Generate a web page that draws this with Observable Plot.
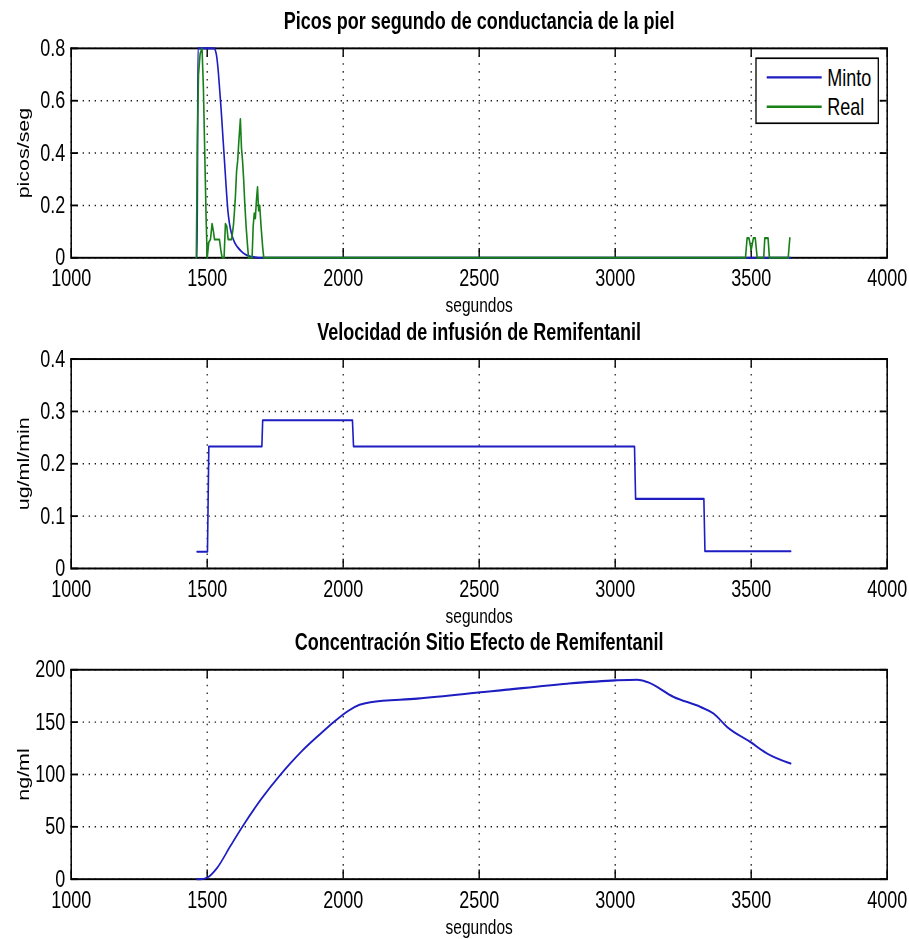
<!DOCTYPE html>
<html><head><meta charset="utf-8">
<script src="https://cdn.jsdelivr.net/npm/d3@7"></script>
<script src="https://cdn.jsdelivr.net/npm/@observablehq/plot@0.6"></script>
<style>
html,body{margin:0;background:#fff;}
#outer{position:relative;width:909px;height:939px;overflow:hidden;background:#fff;}
#wrap{position:absolute;left:0;top:0;width:909px;height:722.3px;transform:scaleY(1.3);transform-origin:0 0;font-family:"Liberation Sans",Arial,sans-serif;}
#wrap > svg{position:absolute;left:0;margin:0;}
</style></head><body><div id="outer"><div id="wrap"></div></div>
<script>
// ---- data ----
const xTicks = [1000, 1500, 2000, 2500, 3000, 3500, 4000];
const picosTicks = [0, 0.2, 0.4, 0.6, 0.8];
const infTicks = [0, 0.1, 0.2, 0.3, 0.4];
const concTicks = [0, 50, 100, 150, 200];

const titles = ["Picos por segundo de conductancia de la piel", "Velocidad de infusión de Remifentanil", "Concentración Sitio Efecto de Remifentanil"];
const yLabels = ["picos/seg", "ug/ml/min", "ng/ml"];
const xLabel = "segundos";
const legendNames = ["Minto", "Real"];

const mintoT = [1460, 1463, 1466, 1525, 1533, 1540, 1546, 1551, 1556, 1561, 1566, 1571, 1576, 1582, 1590, 1600, 1612, 1625, 1640, 1655, 1675, 1700, 3645];
const mintoV = [0, 0, 0.8, 0.8, 0.78, 0.72, 0.64, 0.57, 0.49, 0.41, 0.33, 0.25, 0.18, 0.13, 0.09, 0.06, 0.04, 0.025, 0.013, 0.006, 0.002, 0, 0];

const realT = [1460, 1464, 1468, 1474, 1481, 1486, 1491, 1496, 1500, 1506, 1512, 1518, 1523, 1527, 1545, 1550, 1555, 1562, 1567, 1572, 1577, 1590, 1597, 1603, 1608, 1612, 1616, 1622, 1626, 1630, 1634, 1638, 1643, 1648, 1652, 1665, 1669, 1673, 1677, 1681, 1685, 1689, 1693, 1698, 1704, 1708, 3479, 3485, 3492, 3500, 3508, 3515, 3522, 3546, 3550, 3562, 3567, 3636, 3642];
const realV = [0, 0.45, 0.7, 0.78, 0.8, 0.65, 0.4, 0.15, 0, 0.06, 0.07, 0.13, 0.1, 0.07, 0.07, 0.03, 0, 0, 0.13, 0.12, 0.07, 0.07, 0.13, 0.22, 0.33, 0.37, 0.44, 0.53, 0.42, 0.37, 0.3, 0.21, 0.12, 0.05, 0, 0, 0.12, 0.17, 0.15, 0.22, 0.27, 0.18, 0.2, 0.12, 0.04, 0, 0, 0.075, 0.075, 0.03, 0.075, 0.075, 0, 0, 0.075, 0.075, 0, 0, 0.075];

const infT = [1463, 1501, 1506, 1701, 1704, 2034, 2038, 3071, 3075, 3326, 3330, 3645];
const infV = [0.032, 0.032, 0.233, 0.233, 0.283, 0.283, 0.233, 0.233, 0.133, 0.133, 0.033, 0.033];

const concT = [1462, 1475, 1500, 1537, 1586, 1629, 1700, 1770, 1843, 1917, 1965, 2020, 2060, 2100, 2272, 2517, 2578, 2823, 3001, 3081, 3118, 3215, 3314, 3362, 3412, 3497, 3559, 3645];
const concV = [0, 0, 1.5, 11, 32, 50, 77, 100, 121, 139, 150, 161, 166.5, 169, 172.4, 178.7, 180.3, 186.7, 189.9, 190.5, 188.3, 174, 164.4, 158.1, 145.3, 131, 119.9, 110.4];

const BLUE = "#1d1dc2";
const GREEN = "#178019";

// ---- layout (unstretched coordinates; wrapper is scaled vertically) ----
const W = 909, ML = 70.7, MR = 22.3, MT = 36.7, PH = 161.1, MB = 46;
const TICK = 7;
const panelTops = [0, 238.85, 477.7];
const FONT = "'Liberation Sans', Arial, sans-serif";
const gridStyle = {stroke: "black", strokeOpacity: 1, strokeWidth: 1.1, strokeDasharray: "1.2,4.8"};

function panel(i, yDomain, yTicks, series) {
  const innerW = W - ML - MR;
  const marks = [
    Plot.gridX(xTicks, gridStyle),
    Plot.gridY(yTicks, gridStyle),
    Plot.frame({stroke: "black", strokeWidth: 1.5}),
    Plot.tickX(xTicks, {x: d => d, insetTop: PH - TICK, strokeWidth: 1.4}),
    Plot.tickX(xTicks, {x: d => d, insetBottom: PH - TICK, strokeWidth: 1.4}),
    Plot.tickY(yTicks, {y: d => d, insetRight: innerW - TICK, strokeWidth: 1.4}),
    Plot.tickY(yTicks, {y: d => d, insetLeft: innerW - TICK, strokeWidth: 1.4}),
    Plot.axisX(xTicks, {tickSize: 0, tickPadding: 9, tickFormat: d => String(d), fontSize: 18, label: null}),
    Plot.axisY(yTicks, {tickSize: 0, tickPadding: 6, tickFormat: d => String(d), fontSize: 18, label: null}),
    ...series.map(s => Plot.line(d3.zip(s.t, s.v), {x: d => d[0], y: d => d[1], stroke: s.color, strokeWidth: 1.6, curve: s.curve || "linear"})),
    Plot.text([titles[i]], {text: d => d, frameAnchor: "top", dy: -15, lineAnchor: "bottom", textAnchor: "middle", fontWeight: "bold", fontSize: 18}),
    Plot.text([yLabels[i]], {text: d => d, frameAnchor: "left", dx: -42, rotate: -90, lineAnchor: "bottom", textAnchor: "middle", fontSize: 16.5}),
    Plot.text([xLabel], {text: d => d, frameAnchor: "bottom", dy: 42, lineAnchor: "bottom", textAnchor: "middle", fontSize: 15.5})
  ];
  const svg = Plot.plot({
    width: W, height: MT + PH + MB,
    marginLeft: ML, marginRight: MR, marginTop: MT, marginBottom: MB,
    style: {overflow: "visible", background: "transparent", fontFamily: FONT, color: "black"},
    x: {domain: [1000, 4000], label: null},
    y: {domain: yDomain, label: null},
    marks
  });
  svg.style.top = panelTops[i] + "px";
  document.getElementById("wrap").appendChild(svg);
}

panel(0, [0, 0.8], picosTicks, [
  {t: mintoT, v: mintoV, color: BLUE, curve: "monotone-x"},
  {t: realT, v: realV, color: GREEN}
]);
panel(1, [0, 0.4], infTicks, [{t: infT, v: infV, color: BLUE}]);
panel(2, [0, 200], concTicks, [{t: concT, v: concV, color: BLUE, curve: "monotone-x"}]);

// ---- legend box (inside first axes, top-right) ----
const leg = d3.select("#wrap").append("svg")
  .attr("width", W).attr("height", 120)
  .style("top", "0px").style("overflow", "visible").style("font-family", FONT);
leg.append("rect").attr("x", 756).attr("y", 44.8).attr("width", 122.3).attr("height", 50)
  .attr("fill", "white").attr("stroke", "black").attr("stroke-width", 1.3);
const legColors = [BLUE, GREEN];
const legY = [59.5, 82.1];
legendNames.forEach((n, j) => {
  leg.append("line").attr("x1", 766.7).attr("x2", 821.7).attr("y1", legY[j]).attr("y2", legY[j])
    .attr("stroke", legColors[j]).attr("stroke-width", 1.8);
  leg.append("text").attr("x", 827.3).attr("y", legY[j]).attr("dy", "0.35em")
    .attr("font-size", 18).attr("fill", "black").text(n);
});
</script>
</body></html>
